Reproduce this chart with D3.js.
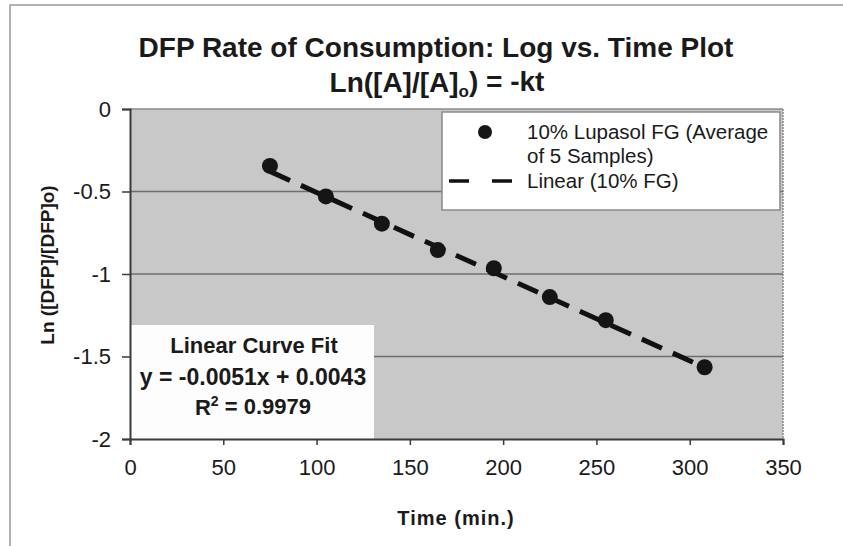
<!DOCTYPE html>
<html><head><meta charset="utf-8">
<script src="https://cdn.jsdelivr.net/npm/d3@7"></script>
<style>body{margin:0;background:#fff}svg{display:block}text{font-family:"Liberation Sans",Arial,sans-serif;fill:#1a1a1a}</style>
</head><body><svg id="c" width="843" height="546"></svg>
<script>
const times = [75, 105, 135, 165, 195, 225, 255, 308];
const lnRatio = [-0.345, -0.53, -0.695, -0.855, -0.965, -1.14, -1.28, -1.565];
const xTicks = [0, 50, 100, 150, 200, 250, 300, 350];
const yTicks = [0, -0.5, -1, -1.5, -2];
const fitSlope = -0.0051, fitIntercept = 0.0043;
const titleLines = ["DFP Rate of Consumption: Log vs. Time Plot"];
const seriesName = ["10% Lupasol FG (Average", "of 5 Samples)"];
const trendName = "Linear (10% FG)";
const fitText = ["Linear Curve Fit", "y = -0.0051x + 0.0043", "= 0.9979"];

const svg = d3.select("#c");
const L = 130, R = 783, T = 109, B = 439;
const x = d3.scaleLinear().domain([0, 350]).range([L, R]);
const y = d3.scaleLinear().domain([-2, 0]).range([B, T]);

// outer border
svg.append("path").attr("d", "M10,546V5H843").attr("fill", "none").attr("stroke", "#9a9a9a").attr("stroke-width", 1.5);

// plot area
svg.append("rect").attr("x", L).attr("y", T).attr("width", R - L).attr("height", B - T).attr("fill", "#c8c8c8");
svg.append("line").attr("x1", R).attr("x2", R).attr("y1", T).attr("y2", B).attr("stroke", "#8a8a8a").attr("stroke-width", 1.5).attr("stroke-dasharray", "2,1");

// gridlines
svg.append("g").selectAll("line").data(yTicks.filter(d => d > -2)).join("line")
  .attr("x1", L).attr("x2", R).attr("y1", d => y(d)).attr("y2", d => y(d))
  .attr("stroke", d => d === 0 ? "#8a8a8a" : "#6e6e6e").attr("stroke-width", 1.5);

// fit box
svg.append("rect").attr("x", L + 1).attr("y", 325).attr("width", 243).attr("height", B - 325).attr("fill", "#fdfdfd");
const ft = svg.append("g").attr("font-weight", "bold").attr("text-anchor", "middle").attr("font-size", 22);
ft.append("text").attr("x", 254).attr("y", 345).attr("dy", "0.35em").text(fitText[0]);
ft.append("text").attr("x", 253).attr("y", 377).attr("dy", "0.35em").attr("font-size", 23).text(fitText[1]);
const r2 = ft.append("text").attr("x", 253).attr("y", 407).attr("dy", "0.35em");
r2.append("tspan").text("R");
r2.append("tspan").attr("font-size", 14).attr("dy", "-0.6em").text("2");
r2.append("tspan").attr("dy", "0.35em").text(" " + fitText[2]);

// axes
const xAxis = svg.append("g").attr("transform", `translate(0,${B})`)
  .call(d3.axisBottom(x).tickValues(xTicks).tickSize(6).tickPadding(14).tickFormat(d3.format("d")));
const yAxis = svg.append("g").attr("transform", `translate(${L},0)`)
  .call(d3.axisLeft(y).tickValues(yTicks).tickSize(8).tickPadding(11).tickFormat(d => d3.format("")(d).replace("−", "-")));
[xAxis, yAxis].forEach(a => {
  a.select(".domain").attr("stroke", "#3a3a3a").attr("stroke-width", 2);
  a.selectAll(".tick line").attr("stroke", "#3a3a3a").attr("stroke-width", 1.5);
  a.selectAll("text").attr("font-size", 22).attr("fill", "#1a1a1a").attr("font-family", '"Liberation Sans",Arial,sans-serif');
});

// trendline
const x0 = d3.min(times), x1 = d3.max(times);
svg.append("line").attr("x1", x(x0)).attr("y1", y(fitSlope * x0 + fitIntercept))
  .attr("x2", x(x1)).attr("y2", y(fitSlope * x1 + fitIntercept))
  .attr("stroke", "#111").attr("stroke-width", 5).attr("stroke-dasharray", "22,12");

// points
svg.append("g").selectAll("circle").data(times.map((t, i) => [t, lnRatio[i]])).join("circle")
  .attr("cx", d => x(d[0])).attr("cy", d => y(d[1])).attr("r", 8).attr("fill", "#151515");

// legend
svg.append("rect").attr("x", 442).attr("y", 112).attr("width", 338).attr("height", 98)
  .attr("fill", "#fff").attr("stroke", "#8a8a8a").attr("stroke-width", 1.5);
svg.append("circle").attr("cx", 485).attr("cy", 132).attr("r", 7).attr("fill", "#151515");
const lg = svg.append("g").attr("font-size", 20.5);
lg.append("text").attr("x", 527).attr("y", 132).attr("dy", "0.35em").text(seriesName[0]);
lg.append("text").attr("x", 527).attr("y", 156).attr("dy", "0.35em").text(seriesName[1]);
lg.append("text").attr("x", 527).attr("y", 181).attr("dy", "0.35em").text(trendName);
svg.append("line").attr("x1", 449).attr("x2", 520).attr("y1", 181).attr("y2", 181)
  .attr("stroke", "#111").attr("stroke-width", 3.5).attr("stroke-dasharray", "20,23");

// titles
const tt = svg.append("g").attr("font-weight", "bold").attr("text-anchor", "middle");
tt.append("text").attr("x", 436).attr("y", 47).attr("dy", "0.35em").attr("font-size", 28).text(titleLines[0]);
const t2 = tt.append("text").attr("x", 437).attr("y", 82).attr("dy", "0.35em").attr("font-size", 28);
t2.append("tspan").text("Ln([A]/[A]");
t2.append("tspan").attr("font-size", 17).attr("dy", "0.3em").text("o");
t2.append("tspan").attr("dy", "-0.2em").text(") = -kt");

// axis titles
svg.append("text").attr("x", 456).attr("y", 518).attr("dy", "0.35em").attr("text-anchor", "middle")
  .attr("font-weight", "bold").attr("font-size", 20).attr("letter-spacing", 1).text("Time (min.)");
svg.append("text").attr("transform", "translate(47,265) rotate(-90)").attr("dy", "0.35em").attr("text-anchor", "middle")
  .attr("font-weight", "bold").attr("font-size", 19).text("Ln ([DFP]/[DFP]o)");
</script></body></html>
